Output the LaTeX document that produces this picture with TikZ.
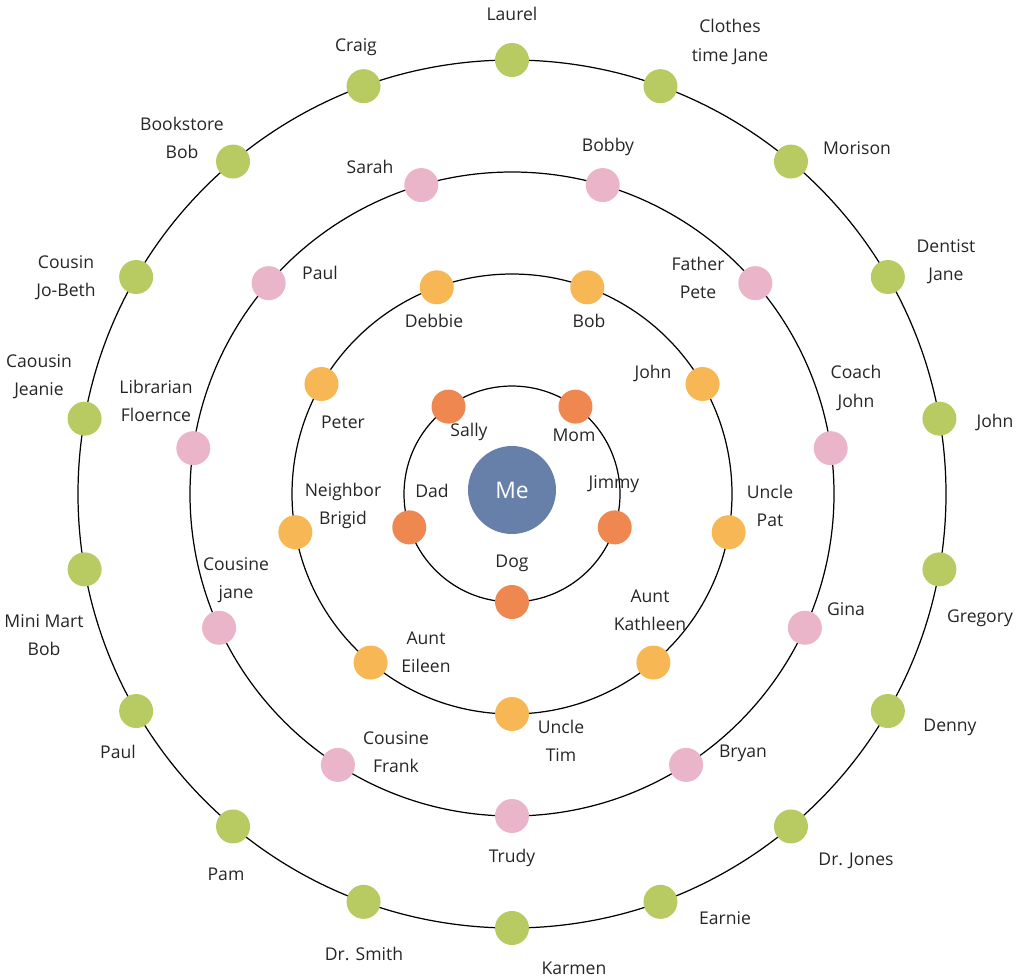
\documentclass[tikz,border=0pt]{standalone}
\usepackage{fontspec}
\setmainfont{Open Sans}
\usetikzlibrary{calc,positioning}
\definecolor{ringone}{RGB}{238,135,80}
\definecolor{ringtwo}{RGB}{248,183,85}
\definecolor{ringthree}{RGB}{235,181,201}
\definecolor{ringfour}{RGB}{183,203,98}
\definecolor{mecolor}{RGB}{102,128,170}
\tikzset{
  dot/.style={circle, minimum size=34*0.02cm, inner sep=0pt},
  lbl/.style={align=center, font=\fontsize{10}{16}\selectfont, text=black!85, inner sep=1pt}
}

\begin{document}
\begin{tikzpicture}[x=0.02cm, y=-0.02cm]
  \useasboundingbox (0,0) rectangle (1024,978);
  \coordinate (c) at (512,494);

  % Orbits
  \foreach \r in {108, 220, 322, 434} {
    \draw[black, line width=0.7pt] (c) circle (\r);
  }

  % Centre
  \node[circle, fill=mecolor, minimum size=88*0.02cm, text=white, font=\fontsize{13}{15}\selectfont] (me) at (512,490) {Me};

  % Dots on each orbit
  \foreach \k [evaluate=\k as \a using -(270+72*\k)] in {0,...,4}
    \node[dot, fill=ringone] (one\k) at ($(c)+(\a:108)$) {};
  \foreach \k [evaluate=\k as \a using -(270+40*\k)] in {0,...,8}
    \node[dot, fill=ringtwo] (two\k) at ($(c)+(\a:220)$) {};
  \foreach \k [evaluate=\k as \a using -(270+360/11*\k)] in {0,...,10}
    \node[dot, fill=ringthree] (three\k) at ($(c)+(\a:322)$) {};
  \foreach \k [evaluate=\k as \a using -(270+20*\k)] in {0,...,17}
    \node[dot, fill=ringfour] (four\k) at ($(c)+(\a:434)$) {};

  % Labels, inner orbit
  \foreach \n/\x/\y/\t in {dog/512/563/Dog, jimmy/614/484/Jimmy, mom/574/435/Mom,
      sally/469/432/Sally, dad/432/491/Dad}
    \node[lbl] (\n) at (\x,\y) {\t};

  % Labels, second orbit
  \foreach \n/\x/\y/\t in {tim/561/741/{Uncle\\Tim}, kathleen/650/610/{Aunt\\Kathleen},
      pat/770/506/{Uncle\\Pat}, johna/653/373/John, bob/589/321/Bob, debbie/434/321/Debbie,
      peter/343/422/Peter, brigid/343/506/{Neighbor\\Brigid}, eileen/426/652/{Aunt\\Eileen}}
    \node[lbl] (\n) at (\x,\y) {\t};

  % Labels, third orbit
  \foreach \n/\x/\y/\t in {trudy/512/858/Trudy, bryan/743/753/Bryan, gina/846/609/Gina,
      coach/856/388/{Coach\\John}, father/698/278/{Father\\Pete}, bobby/608/147/Bobby,
      sarah/370/167/Sarah, paula/320/273/Paul, librarian/156/401/{Librarian\\Floernce},
      jane/236/580/{Cousine\\jane}, frank/396/752/{Cousine\\Frank}}
    \node[lbl] (\n) at (\x,\y) {\t};

  % Labels, outer orbit
  \foreach \n/\x/\y/\t in {karmen/574/968/Karmen, earnie/725/918/Earnie, jones/856/861/Dr. Jones,
      denny/950/727/Denny, gregory/980/618/Gregory, johnb/995/422/John,
      dentist/946/262/{Dentist\\Jane}, morison/857/148/Morison, clothes/730/42/{Clothes\\time Jane},
      laurel/512/14/Laurel, craig/356/47/Craig, bookstore/182/138/{Bookstore\\Bob},
      jobeth/66/278/{Cousin\\Jo-Beth}, jeanie/39/377/{Caousin\\Jeanie}, minimart/44/635/{Mini Mart\\Bob},
      paulb/118/752/Paul, pam/226/874/Pam, smith/364/954/Dr. Smith}
    \node[lbl] (\n) at (\x,\y) {\t};
\end{tikzpicture}
\end{document}
